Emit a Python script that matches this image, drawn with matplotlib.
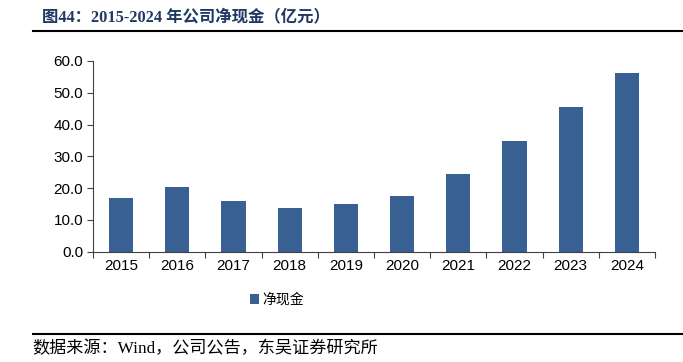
import matplotlib
matplotlib.use("Agg")
import matplotlib.pyplot as plt
import numpy as np

years = ["2015", "2016", "2017", "2018", "2019", "2020", "2021", "2022", "2023", "2024"]
net_cash = [16.8, 20.4, 15.9, 13.7, 14.9, 17.6, 24.6, 34.9, 45.6, 56.1]
yticks = [0, 10, 20, 30, 40, 50, 60]

plt.rcParams['font.family'] = ['Liberation Sans', 'Noto Sans CJK SC']

fig = plt.figure(figsize=(6.83, 3.62), dpi=100)
ax = fig.add_axes([0.1362, 0.3047, 0.8228, 0.5268])

x = np.arange(len(years))
ax.bar(x, net_cash, width=0.43, color='#386092', label='净现金')

ax.set_xlim(-0.5, len(years) - 0.5)
ax.set_ylim(0, 60)
ax.set_yticks(yticks)
ax.set_yticklabels([f"{v:.1f}" for v in yticks], fontsize=11)
ax.set_xticks(np.arange(len(years) + 1) - 0.5, minor=False)
ax.set_xticklabels([])
ax.set_xticks(x, minor=True)
ax.set_xticklabels(years, minor=True, fontsize=11)
ax.tick_params(axis='x', which='minor', length=0, pad=5)
ax.tick_params(axis='x', which='major', length=4, direction='out', color='#404040')
ax.tick_params(axis='y', length=4, direction='out', color='#404040', pad=3)
for s in ['top', 'right']:
    ax.spines[s].set_visible(False)
for s in ['left', 'bottom']:
    ax.spines[s].set_color('#404040')

leg = fig.legend(loc='center', bbox_to_anchor=(0.405, 0.172), frameon=False,
                 handlelength=0.7, handleheight=0.7, handletextpad=0.2,
                 prop={'family': ['Noto Sans CJK SC'], 'size': 10})

# title and footer
fig.text(0.062, 0.952, "图44：2015-2024 年公司净现金（亿元）", fontsize=11.8, fontweight='bold',
         color='#1F3864', family=['Liberation Serif', 'Noto Sans CJK SC'], va='center')
fig.add_artist(plt.Line2D([0.048, 1.0], [0.914, 0.914], color='black', lw=1.5))
fig.add_artist(plt.Line2D([0.048, 1.0], [0.077, 0.077], color='black', lw=1.5))
fig.text(0.047, 0.035, "数据来源：Wind，公司公告，东吴证券研究所", fontsize=12.3,
         family=['Liberation Serif', 'Noto Sans CJK SC'], va='center')

fig.savefig("out.png", dpi=100)
